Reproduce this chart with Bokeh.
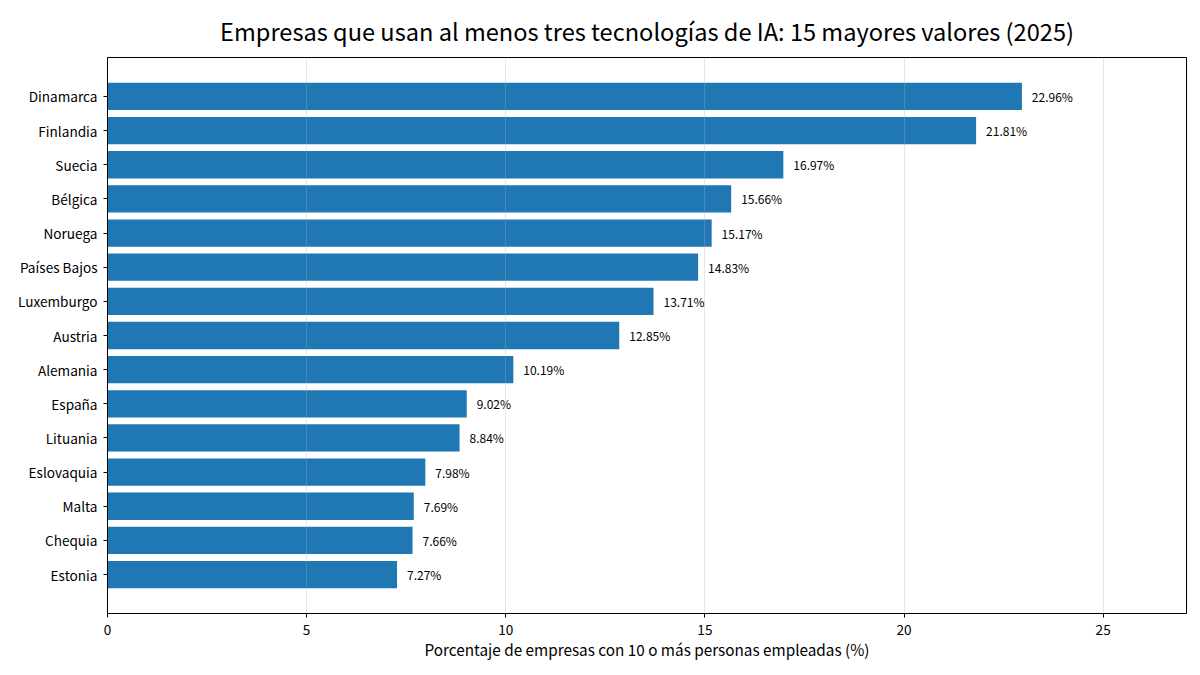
from bokeh.plotting import figure
from bokeh.models import ColumnDataSource, FactorRange, Range1d, FixedTicker
from bokeh.embed import file_html
from bokeh.resources import INLINE
from bokeh.core.properties import value

countries = ["Dinamarca", "Finlandia", "Suecia", "Bélgica", "Noruega", "Países Bajos",
             "Luxemburgo", "Austria", "Alemania", "España", "Lituania", "Eslovaquia",
             "Malta", "Chequia", "Estonia"]
values = [22.96, 21.81, 16.97, 15.66, 15.17, 14.83, 13.71, 12.85, 10.19, 9.02, 8.84,
          7.98, 7.69, 7.66, 7.27]
labels = [f"{v:.2f}%" for v in values]
x_ticks = [0, 5, 10, 15, 20, 25]
title_text = "Empresas que usan al menos tres tecnologías de IA: 15 mayores valores (2025)"

FONT = "Noto Sans CJK JP"

src = ColumnDataSource(dict(country=countries, val=values, lab=labels,
                            lx=[v + 0.25 for v in values]))

yr = FactorRange(factors=list(reversed(countries)), range_padding=0.64,
                 range_padding_units="absolute")
p = figure(width=1192, height=667, y_range=yr, x_range=Range1d(0, max(values) * 1.18),
           output_backend="svg", toolbar_location=None,
           min_border_left=107, min_border_right=6, min_border_top=57, min_border_bottom=54)

p.hbar(y="country", right="val", left=0, height=0.8, source=src,
       fill_color="#1f77b4", line_color=None)
p.text(x="lx", y="country", text="lab", source=src, text_font=value(FONT),
       text_font_size="12px", text_baseline="middle", text_align="left", text_color="#000000")

p.title.text = title_text
p.title.text_font = FONT
p.title.text_font_size = "23.6px"
p.title.text_font_style = "normal"
p.title.align = "center"
p.title.text_color = "#000000"
p.title.offset = 0
p.title.standoff = 20

p.xaxis.ticker = FixedTicker(ticks=x_ticks)
p.xaxis.axis_label = "Porcentaje de empresas con 10 o más personas empleadas (%)"
for ax in (p.xaxis[0], p.yaxis[0]):
    ax.major_label_text_font = FONT
    ax.major_label_text_font_size = "13.6px"
    ax.major_label_text_color = "#000000"
    ax.axis_line_color = "#000000"
    ax.major_tick_line_color = "#000000"
    ax.major_tick_out = 4
    ax.major_tick_in = 0
    ax.minor_tick_line_color = None
p.xaxis.axis_label_text_font = FONT
p.xaxis.axis_label_text_font_size = "15.3px"
p.xaxis.axis_label_text_font_style = "normal"
p.xaxis.axis_label_text_color = "#000000"
p.xaxis.axis_label_standoff = 0
p.xaxis.major_label_standoff = 7
p.yaxis.major_label_standoff = 6

p.ygrid.grid_line_color = None
p.xgrid.grid_line_color = "#b0b0b0"
p.xgrid.grid_line_alpha = 0.3
p.xgrid.level = "overlay"
p.outline_line_color = "#000000"
p.outline_line_width = 1
p.outline_line_alpha = 1

open("out.html", "w").write(file_html(p, INLINE))
